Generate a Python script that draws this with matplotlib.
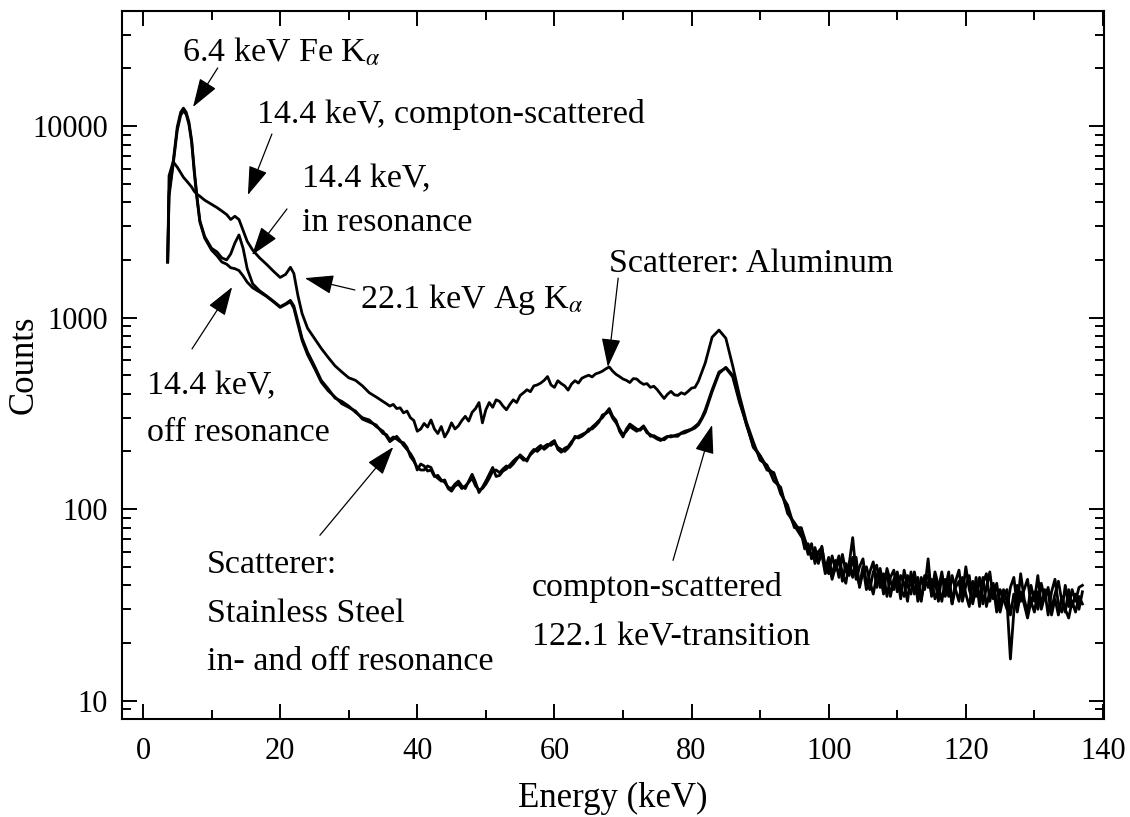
import matplotlib
matplotlib.use("Agg")
import matplotlib.pyplot as plt
from matplotlib.ticker import FixedLocator, NullFormatter, FixedFormatter

# ---------------- data ----------------
energy_head = [3.6, 3.8, 4.4, 5.0, 5.5, 5.9, 6.3, 6.7, 7.1, 7.5, 7.9, 8.3, 9.0, 10.0, 10.8,
               11.5, 12.2, 12.8, 13.4, 14.0, 14.6, 15.2, 16.0, 17.0, 18.0, 19.0, 20.0, 20.8,
               21.5, 22.0, 22.6, 23.2, 24.0, 25.0]
energy_mid_a = [26, 27, 28, 29, 30, 31, 32, 33, 34, 35]
energy_mid_b = [35.5, 36, 36.5, 37, 37.5, 38, 38.5, 39, 39.5, 40,
                40.5, 41, 41.5, 42, 42.5, 43, 43.5, 44, 44.5, 45,
                45.5, 46, 46.5, 47, 47.5, 48, 48.5, 49, 49.5, 50,
                50.5, 51, 51.5, 52, 52.5, 53, 53.5, 54, 54.5, 55,
                55.5, 56, 56.5, 57, 57.5, 58, 58.5, 59, 59.5, 60,
                60.5, 61, 61.5, 62, 62.5, 63, 63.5, 64, 64.5, 65,
                65.5, 66, 66.5, 67, 67.5, 68, 68.5, 69, 69.5, 70,
                70.5, 71, 71.5, 72, 72.5, 73, 73.5, 74, 74.5, 75,
                75.5, 76, 76.5, 77, 77.5, 78, 78.5, 79, 79.5, 80,
                80.5, 81, 81.5, 82]
energy_mid_c = [83, 84, 85, 86, 87, 88, 89, 90, 91, 92, 93, 94, 95]
energy_tail = [96.0, 96.5, 97.0, 97.5, 98.0, 98.5, 99.0, 99.5, 100.0, 100.5,
               101.0, 101.5, 102.0, 102.5, 103.0, 103.5, 104.0, 104.5, 105.0, 105.5,
               106.0, 106.5, 107.0, 107.5, 108.0, 108.5, 109.0, 109.5, 110.0, 110.5,
               111.0, 111.5, 112.0, 112.5, 113.0, 113.5, 114.0, 114.5, 115.0, 115.5,
               116.0, 116.5, 117.0, 117.5, 118.0, 118.5, 119.0, 119.5, 120.0, 120.5,
               121.0, 121.5, 122.0, 122.5, 123.0, 123.5, 124.0, 124.5, 125.0, 125.5,
               126.0, 126.5, 127.0, 127.5, 128.0, 128.5, 129.0, 129.5, 130.0, 130.5,
               131.0, 131.5, 132.0, 132.5, 133.0, 133.5, 134.0, 134.5, 135.0, 135.5,
               136.0, 136.5, 137.0]

# Scatterer: Aluminum
alu_head = [1950, 5500, 6500, 6100, 5700, 5400, 5200, 5000, 4800, 4550, 4400, 4300, 4100, 3900,
            3750, 3600, 3450, 3250, 3380, 3250, 2850, 2500, 2250, 2050, 1900, 1750, 1620, 1680,
            1830, 1700, 1300, 1050, 880, 780]
alu_mid_a = [690, 620, 560, 520, 485, 470, 440, 405, 385, 365]
alu_mid_b = [355, 345, 352, 335, 338, 318, 325, 300, 290, 255,
             262, 280, 268, 292, 262, 248, 270, 238, 255, 282,
             262, 272, 290, 305, 288, 320, 335, 360, 282, 330,
             360, 340, 372, 365, 345, 330, 352, 372, 360, 392,
             405, 420, 410, 440, 445, 455, 470, 492, 445, 432,
             468, 452, 440, 418, 450, 468, 455, 482, 492, 500,
             490, 508, 515, 525, 540, 552, 525, 505, 492, 478,
             470, 458, 480, 478, 460, 448, 452, 432, 438, 420,
             398, 378, 398, 412, 395, 392, 405, 398, 412, 428,
             432, 465, 520, 580]
alu_mid_c = [790, 860, 780, 560, 390, 285, 225, 180, 170, 140, 130, 95, 85]
alu_tail = [75, 62, 66, 55, 60, 52, 64, 48, 56, 45,
            54, 44, 58, 47, 52, 71, 46, 40, 50, 38,
            47, 53, 39, 46, 36, 49, 42, 38, 45, 34,
            48, 40, 36, 46, 33, 44, 38, 55, 35, 43,
            33, 45, 38, 47, 32, 42, 48, 35, 50, 38,
            33, 44, 31, 41, 46, 33, 40, 29, 38, 34,
            30, 39, 44, 31, 46, 34, 29, 40, 33, 45,
            31, 38, 28, 37, 43, 32, 29, 40, 31, 38,
            33, 39, 40]

# Scatterer: Stainless Steel, in resonance
steel_in_head = [1950, 4500, 6500, 9900, 11800, 12400, 11800, 10500, 8400, 5800, 4200, 3200,
                 2650, 2300, 2200, 2050, 2000, 2150, 2450, 2700, 2300, 1800, 1500, 1380, 1300,
                 1220, 1140, 1180, 1230, 1150, 950, 780, 660, 560]
steel_in_mid_a = [470, 425, 380, 365, 345, 320, 300, 292, 270, 255]
steel_in_mid_b = [240, 225, 232, 240, 228, 215, 205, 195, 182, 160,
                  172, 168, 158, 160, 148, 150, 142, 138, 130, 128,
                  135, 140, 132, 128, 140, 152, 138, 122, 130, 140,
                  152, 165, 148, 150, 158, 162, 170, 178, 185, 188,
                  180, 182, 192, 200, 208, 215, 205, 212, 222, 228,
                  205, 198, 208, 212, 225, 235, 240, 245, 250, 255,
                  268, 278, 290, 300, 318, 335, 305, 290, 255, 238,
                  262, 278, 270, 262, 258, 268, 250, 245, 238, 232,
                  228, 235, 240, 238, 242, 245, 248, 250, 255, 260,
                  265, 275, 295, 320]
steel_in_mid_c = [410, 510, 550, 500, 370, 275, 215, 190, 166, 152, 125, 98, 82]
steel_in_tail = [72, 68, 58, 66, 52, 60, 63, 50, 46, 57,
                 48, 55, 42, 52, 45, 56, 43, 50, 55, 41,
                 38, 47, 51, 39, 46, 35, 44, 48, 37, 45,
                 41, 33, 47, 36, 44, 34, 42, 45, 36, 47,
                 40, 33, 43, 35, 45, 38, 33, 44, 36, 31,
                 42, 35, 44, 32, 39, 47, 34, 41, 31, 38,
                 33, 16.5, 29, 40, 33, 38, 43, 32, 37, 30,
                 41, 34, 39, 30, 36, 42, 33, 29, 38, 31,
                 36, 30, 37]

# Scatterer: Stainless Steel, off resonance
steel_off_head = [1950, 4300, 6300, 9500, 11400, 12000, 11500, 10200, 8200, 5600, 4100, 3150,
                  2600, 2250, 2100, 1950, 1900, 1820, 1800, 1760, 1650, 1530, 1430, 1360, 1290,
                  1210, 1130, 1170, 1210, 1120, 920, 760, 640, 545]
steel_off_mid_a = [460, 415, 385, 355, 340, 325, 295, 285, 275, 248]
steel_off_mid_b = [245, 230, 238, 232, 225, 222, 210, 188, 178, 165,
                   160, 160, 168, 165, 150, 145, 140, 142, 128, 124,
                   132, 135, 128, 132, 138, 145, 132, 126, 128, 135,
                   145, 158, 160, 155, 162, 168, 165, 172, 182, 192,
                   185, 178, 195, 205, 200, 208, 212, 218, 215, 222,
                   210, 205, 200, 208, 220, 240, 235, 240, 248, 262,
                   262, 272, 285, 310, 315, 325, 298, 282, 262, 245,
                   255, 270, 262, 255, 262, 272, 255, 240, 242, 236,
                   232, 230, 238, 242, 240, 240, 250, 255, 258, 262,
                   270, 280, 300, 330]
steel_off_mid_c = [420, 520, 545, 490, 360, 280, 210, 190, 160, 155, 120, 105, 80]
steel_off_tail = [80, 70, 62, 57, 63, 53, 58, 46, 52, 43,
                  50, 57, 46, 41, 53, 44, 56, 39, 47, 50,
                  42, 36, 45, 49, 40, 47, 35, 43, 47, 38,
                  35, 45, 40, 47, 37, 33, 45, 39, 43, 34,
                  38, 47, 35, 41, 32, 39, 42, 33, 40, 45,
                  32, 39, 35, 44, 31, 37, 41, 33, 29, 35,
                  38, 28, 36, 29, 37, 32, 27, 33, 29, 37,
                  30, 35, 37, 28, 34, 28, 35, 30, 27, 33,
                  29, 35, 32]

x_ticks = [0, 20, 40, 60, 80, 100, 120, 140]
x_minor = [10, 30, 50, 70, 90, 110, 130]
y_ticks = [10, 100, 1000, 10000]
y_tick_labels = ["10", "100", "1000", "10000"]

energy = energy_head + energy_mid_a + energy_mid_b + energy_mid_c + energy_tail
series = {
    "alu": alu_head + alu_mid_a + alu_mid_b + alu_mid_c + alu_tail,
    "steel_in": steel_in_head + steel_in_mid_a + steel_in_mid_b + steel_in_mid_c + steel_in_tail,
    "steel_off": steel_off_head + steel_off_mid_a + steel_off_mid_b + steel_off_mid_c + steel_off_tail,
}

# ---------------- style ----------------
plt.rcParams['font.family'] = ['Liberation Serif', 'DejaVu Serif']
plt.rcParams['mathtext.fontset'] = 'stix'

W, H = 1130, 817
fig = plt.figure(figsize=(W / 100, H / 100), dpi=100)
L, R, T, B = 122, 1104, 10.7, 719
ax = fig.add_axes([L / W, 1 - B / H, (R - L) / W, (B - T) / H])

for key in ["steel_off", "steel_in", "alu"]:
    y = series[key]
    n = min(len(energy), len(y))
    ax.plot(energy[:n], y[:n], color="black", lw=2.0, solid_joinstyle="round")

ax.set_yscale("log")
ax.set_xlim(-3.06, 140.15)
ax.set_ylim(8.02, 40000)

ax.xaxis.set_major_locator(FixedLocator(x_ticks))
ax.xaxis.set_minor_locator(FixedLocator(x_minor))
ax.set_xticklabels([str(v) for v in x_ticks])
ax.yaxis.set_major_locator(FixedLocator(y_ticks))
ax.yaxis.set_major_formatter(FixedFormatter(y_tick_labels))
minor_y = [m * d for d in [1, 10, 100, 1000, 10000] for m in range(2, 10)]
ax.yaxis.set_minor_locator(FixedLocator(minor_y))
ax.yaxis.set_minor_formatter(NullFormatter())

ax.tick_params(which="both", direction="in", top=True, right=True, width=1.4, color="black")
ax.tick_params(which="major", length=11)
ax.tick_params(which="minor", length=6.5)
ax.tick_params(axis="x", which="major", labelsize=22, pad=13)
ax.tick_params(axis="y", which="major", labelsize=22, pad=10)
for s in ax.spines.values():
    s.set_linewidth(1.5)

ax.set_xlabel("Energy (keV)", fontsize=25)
ax.xaxis.set_label_coords(0.5, -(782 - B) / (B - T))
ax.set_ylabel("Counts", fontsize=25)
ax.yaxis.set_label_coords((41 - L) / (R - L), 0.5)

# ---------------- annotations ----------------
def ftext(px, py, s):
    fig.text(px / W, 1 - py / H, s, fontsize=24.5, ha="left", va="baseline")

ftext(182, 62, r"6.4 keV Fe K$_{\alpha}$")
ftext(257, 123, "14.4 keV, compton-scattered")
ftext(302, 187, "14.4 keV,")
ftext(302, 231, "in resonance")
ftext(360, 308, r"22.1 keV Ag K$_{\alpha}$")
ftext(609, 272, "Scatterer: Aluminum")
ftext(147, 394, "14.4 keV,")
ftext(147, 441, "off resonance")
ftext(207, 573, "Scatterer:")
ftext(207, 622, "Stainless Steel")
ftext(207, 670, "in- and off resonance")
ftext(532, 596, "compton-scattered")
ftext(532, 646, "122.1 keV-transition")

arrows = [  # (tip E, tip counts, tail E, tail counts)
    (7.3, 12570, 10.9, 20100),
    (15.3, 4365, 18.8, 9080),
    (15.9, 2120, 21.0, 3690),
    (23.6, 1607, 30.9, 1393),
    (13.0, 1442, 7.15, 686),
    (36.5, 211, 25.8, 73),
    (67.8, 552, 69.3, 1607),
    (83.0, 275, 77.3, 54),
]
for tx, ty, sx, sy in arrows:
    ax.annotate("", xy=(tx, ty), xytext=(sx, sy),
                arrowprops=dict(arrowstyle="-|>,head_length=0.9,head_width=0.3",
                                lw=0.9, color="black", shrinkA=0, shrinkB=0,
                                mutation_scale=20))

fig.savefig("out.png", dpi=100)
